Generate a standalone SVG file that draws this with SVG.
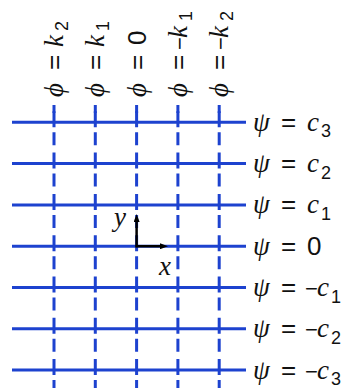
<svg xmlns="http://www.w3.org/2000/svg" width="349" height="388" viewBox="0 0 349 388">
<defs>
<style>
.h{stroke:#1d42cf;stroke-width:3;fill:none}
.v{stroke:#1d42cf;stroke-width:3;fill:none;stroke-dasharray:16 5 13 7.3}
.s{stroke:#1d42cf;stroke-width:3;fill:none}
.ax{stroke:#000;stroke-width:2.5;fill:none}
.it{font-family:"Liberation Serif","DejaVu Serif",serif;font-style:italic;font-size:27px;fill:#111}
.rm{font-family:"Liberation Sans","DejaVu Sans",sans-serif;font-size:26px;fill:#111}
.mn{font-family:"Liberation Sans","DejaVu Sans",sans-serif;font-size:22px;fill:#111}
.sb{font-family:"Liberation Sans","DejaVu Sans",sans-serif;font-size:18px;fill:#111}
</style>
<marker id="ah" viewBox="0 0 8 6" refX="0" refY="3" markerWidth="8" markerHeight="6" markerUnits="userSpaceOnUse" orient="auto">
<path d="M0,0 L8,3 L0,6 z" fill="#000"/>
</marker>
</defs>
<rect width="349" height="388" fill="#fff"/>
<g id="connectors">
<g id="psi-lines">
<line class="h" x1="12" y1="122.3" x2="246" y2="122.3"/>
<line class="h" x1="12" y1="163.6" x2="246" y2="163.6"/>
<line class="h" x1="12" y1="204.9" x2="246" y2="204.9"/>
<line class="h" x1="12" y1="246.2" x2="246" y2="246.2"/>
<line class="h" x1="12" y1="287.5" x2="246" y2="287.5"/>
<line class="h" x1="12" y1="328.8" x2="246" y2="328.8"/>
<line class="h" x1="12" y1="370.1" x2="246" y2="370.1"/>
</g>
<g id="phi-lines">
<line class="s" x1="54" y1="105" x2="54" y2="113"/>
<line class="v" x1="54" y1="111.3" x2="54" y2="388"/>
<line class="s" x1="95.3" y1="105" x2="95.3" y2="113"/>
<line class="v" x1="95.3" y1="111.3" x2="95.3" y2="388"/>
<line class="s" x1="136.6" y1="105" x2="136.6" y2="113"/>
<line class="v" x1="136.6" y1="111.3" x2="136.6" y2="388"/>
<line class="s" x1="177.9" y1="105" x2="177.9" y2="113"/>
<line class="v" x1="177.9" y1="111.3" x2="177.9" y2="388"/>
<line class="s" x1="219.2" y1="105" x2="219.2" y2="113"/>
<line class="v" x1="219.2" y1="111.3" x2="219.2" y2="388"/>
</g>
</g>
<g id="axes">
<line class="ax" x1="136.6" y1="247.4" x2="136.6" y2="222" marker-end="url(#ah)"/>
<line class="ax" x1="135.4" y1="246.2" x2="160" y2="246.2" marker-end="url(#ah)"/>
<text class="it" x="114" y="226">y</text>
<text class="it" x="159" y="275">x</text>
</g>
<g id="phi-labels">
<g id="phi-k2" transform="translate(63,97) rotate(-90)"><text class="it" x="0" y="0">ϕ</text><text class="rm" x="27" y="0">=</text><text class="it" x="50" y="0">k</text><text class="sb" x="66" y="5">2</text></g>
<g id="phi-k1" transform="translate(104.3,97) rotate(-90)"><text class="it" x="0" y="0">ϕ</text><text class="rm" x="27" y="0">=</text><text class="it" x="50" y="0">k</text><text class="sb" x="66" y="5">1</text></g>
<g id="phi-0" transform="translate(145.6,97) rotate(-90)"><text class="it" x="0" y="0">ϕ</text><text class="rm" x="27" y="0">=</text><text class="rm" x="52" y="0">0</text></g>
<g id="phi-mk1" transform="translate(186.9,97) rotate(-90)"><text class="it" x="0" y="0">ϕ</text><text class="rm" x="27" y="0">=</text><text class="mn" x="47" y="0">−</text><text class="it" x="59" y="0">k</text><text class="sb" x="76" y="5">1</text></g>
<g id="phi-mk2" transform="translate(228.2,97) rotate(-90)"><text class="it" x="0" y="0">ϕ</text><text class="rm" x="27" y="0">=</text><text class="mn" x="47" y="0">−</text><text class="it" x="59" y="0">k</text><text class="sb" x="76" y="5">2</text></g>
</g>
<g id="psi-labels">
<g id="psi-c3"><text class="it" x="253" y="130.8">ψ</text><text class="rm" x="281" y="130.8">=</text><text class="it" x="307" y="130.8">c</text><text class="sb" x="321" y="137.3">3</text></g>
<g id="psi-c2"><text class="it" x="253" y="172.1">ψ</text><text class="rm" x="281" y="172.1">=</text><text class="it" x="307" y="172.1">c</text><text class="sb" x="321" y="178.6">2</text></g>
<g id="psi-c1"><text class="it" x="253" y="213.4">ψ</text><text class="rm" x="281" y="213.4">=</text><text class="it" x="307" y="213.4">c</text><text class="sb" x="321" y="219.9">1</text></g>
<g id="psi-0"><text class="it" x="253" y="254.7">ψ</text><text class="rm" x="281" y="254.7">=</text><text class="rm" x="307" y="254.7">0</text></g>
<g id="psi-mc1"><text class="it" x="253" y="296">ψ</text><text class="rm" x="281" y="296">=</text><text class="mn" x="305" y="296">−</text><text class="it" x="317" y="296">c</text><text class="sb" x="331" y="302.5">1</text></g>
<g id="psi-mc2"><text class="it" x="253" y="337.3">ψ</text><text class="rm" x="281" y="337.3">=</text><text class="mn" x="305" y="337.3">−</text><text class="it" x="317" y="337.3">c</text><text class="sb" x="331" y="343.8">2</text></g>
<g id="psi-mc3"><text class="it" x="253" y="378.6">ψ</text><text class="rm" x="281" y="378.6">=</text><text class="mn" x="305" y="378.6">−</text><text class="it" x="317" y="378.6">c</text><text class="sb" x="331" y="385.1">3</text></g>
</g>
</svg>
